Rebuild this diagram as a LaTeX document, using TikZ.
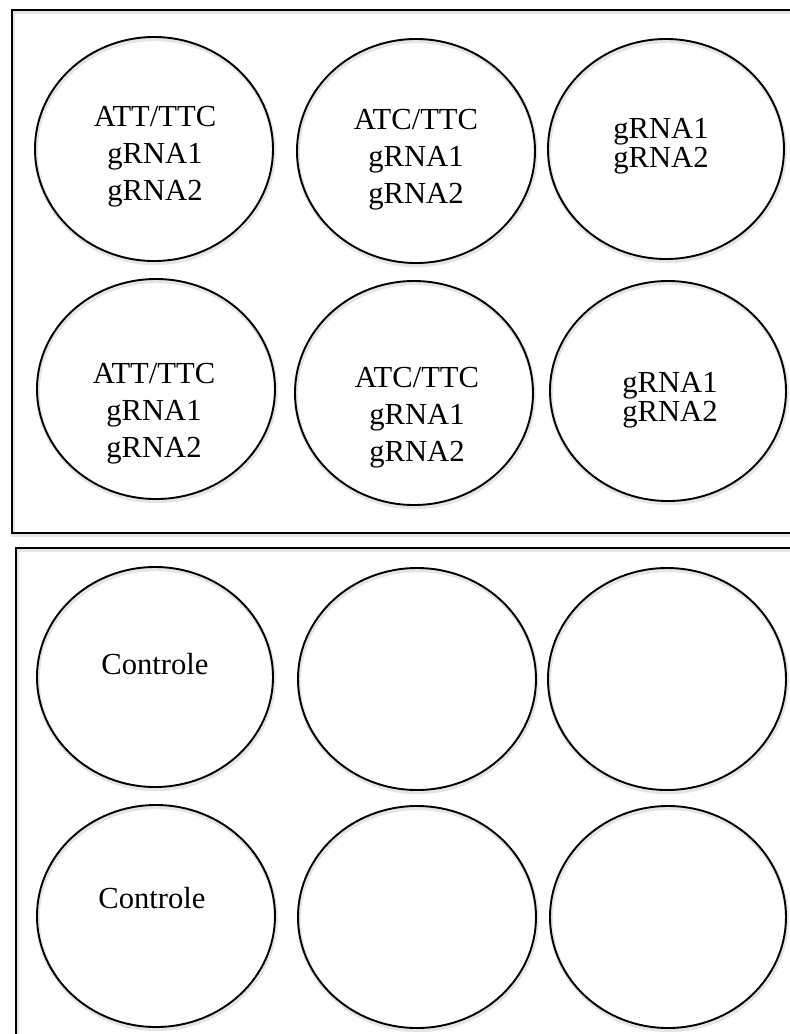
\documentclass[tikz,border=0pt]{standalone}
\usepackage{fontspec}
\setmainfont{Liberation Serif}
\begin{document}
\begin{tikzpicture}[x=1pt,y=-1pt,
  soft/.style={preaction={draw=black,draw opacity=0.10,line width=4pt,
      transform canvas={xshift=0.8pt,yshift=-2.2pt}}},
  plate/.style={draw=black,line width=2.3pt,soft},
  well/.style={ellipse,draw=black,line width=1.9pt,inner sep=0pt,soft,
      minimum width=2*#1},
  wellh/.style={minimum height=2*#1},
  lbl/.style={anchor=base,inner sep=0pt,font=\fontsize{30.6}{37}\selectfont},
  lbltwo/.style={anchor=base,inner sep=0pt,font=\fontsize{30.6}{29.5}\selectfont}]
\usetikzlibrary{shapes.geometric}
\useasboundingbox (0,0) rectangle (790,1034);
\clip (0,0) rectangle (790,1034);

% two culture plates, running off the right and bottom edges
\draw[plate] (12,10) rectangle (812,533);
\draw[plate] (16,548) rectangle (812,1060);

% upper plate: transfected wells
\node[well=119pt,wellh=112pt] (w11) at (154,149) {};
\node[well=119pt,wellh=112pt] (w12) at (416,151) {};
\node[well=118pt,wellh=110pt] (w13) at (666,149) {};
\node[well=119pt,wellh=110pt] (w21) at (156,389) {};
\node[well=119pt,wellh=112pt] (w22) at (414,393) {};
\node[well=118pt,wellh=110pt] (w23) at (668,391) {};

% lower plate: control and empty wells
\node[well=118pt,wellh=110pt] (w31) at (155,677) {};
\node[well=119pt,wellh=111pt] (w32) at (417,679) {};
\node[well=119pt,wellh=111pt] (w33) at (667,679) {};
\node[well=119pt,wellh=111pt] (w41) at (156,916) {};
\node[well=119pt,wellh=111pt] (w42) at (417,917) {};
\node[well=118pt,wellh=111pt] (w43) at (668,917) {};

% well contents (first baseline placed at each coordinate)
\node[lbl] (t11) at (155,126) {\begin{tabular}[t]{@{}c@{}}ATT/TTC\\gRNA1\\gRNA2\end{tabular}};
\node[lbl] (t12) at (416,129) {\begin{tabular}[t]{@{}c@{}}ATC/TTC\\gRNA1\\gRNA2\end{tabular}};
\node[lbltwo] (t13) at (661,138) {\begin{tabular}[t]{@{}c@{}}gRNA1\\gRNA2\end{tabular}};
\node[lbl] (t21) at (154,383) {\begin{tabular}[t]{@{}c@{}}ATT/TTC\\gRNA1\\gRNA2\end{tabular}};
\node[lbl] (t22) at (417,387) {\begin{tabular}[t]{@{}c@{}}ATC/TTC\\gRNA1\\gRNA2\end{tabular}};
\node[lbltwo] (t23) at (670,392) {\begin{tabular}[t]{@{}c@{}}gRNA1\\gRNA2\end{tabular}};
\node[lbl] (t31) at (155,674) {Controle};
\node[lbl] (t41) at (152,908) {Controle};
\end{tikzpicture}
\end{document}
